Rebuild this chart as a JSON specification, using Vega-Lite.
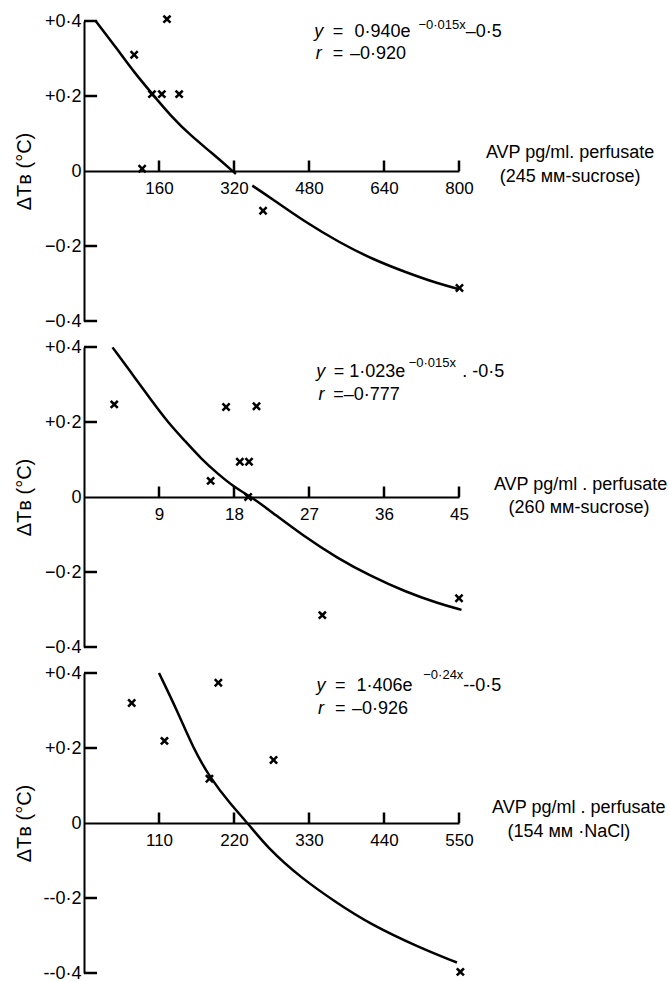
{
  "$schema": "https://vega.github.io/schema/vega-lite/v6.json",
  "padding": {"left": 14, "top": 12, "right": 0, "bottom": 0},
  "background": "white",
  "config": {
    "font": "Liberation Sans",
    "view": {"stroke": null},
    "axis": {
      "domainColor": "black", "domainWidth": 2, "ticks": false,
      "labelColor": "black", "labelFontSize": 17, "labelFont": "Liberation Sans",
      "grid": false, "titleColor": "black", "titleFontWeight": "normal", "titleFontSize": 20,
      "titleFont": "Liberation Sans", "labelFlush": false, "labelOverlap": false
    },
    "text": {"color": "black", "font": "Liberation Sans"}
  },
  "datasets": {
    "p1ticks": [
      {"a": "x", "x": 160, "y": 0}, {"a": "x", "x": 320, "y": 0}, {"a": "x", "x": 480, "y": 0}, {"a": "x", "x": 640, "y": 0}, {"a": "x", "x": 800, "y": 0},
      {"a": "y", "x": 0, "y": 0.4}, {"a": "y", "x": 0, "y": 0.2}, {"a": "y", "x": 0, "y": -0.2}, {"a": "y", "x": 0, "y": -0.4}
    ],
    "p2ticks": [
      {"a": "x", "x": 9, "y": 0}, {"a": "x", "x": 18, "y": 0}, {"a": "x", "x": 27, "y": 0}, {"a": "x", "x": 36, "y": 0}, {"a": "x", "x": 45, "y": 0},
      {"a": "y", "x": 0, "y": 0.4}, {"a": "y", "x": 0, "y": 0.2}, {"a": "y", "x": 0, "y": -0.2}, {"a": "y", "x": 0, "y": -0.4}
    ],
    "p3ticks": [
      {"a": "x", "x": 110, "y": 0}, {"a": "x", "x": 220, "y": 0}, {"a": "x", "x": 330, "y": 0}, {"a": "x", "x": 440, "y": 0}, {"a": "x", "x": 550, "y": 0},
      {"a": "y", "x": 0, "y": 0.4}, {"a": "y", "x": 0, "y": 0.2}, {"a": "y", "x": 0, "y": -0.2}, {"a": "y", "x": 0, "y": -0.4}
    ],
    "p1curve": [
      {"seg": "a", "x": 25, "y": 0.4}, {"seg": "a", "x": 71, "y": 0.325}, {"seg": "a", "x": 107, "y": 0.263},
      {"seg": "a", "x": 146, "y": 0.205}, {"seg": "a", "x": 185, "y": 0.147}, {"seg": "a", "x": 228, "y": 0.094},
      {"seg": "a", "x": 271, "y": 0.05}, {"seg": "a", "x": 316, "y": 0.001}, {"seg": "a", "x": 324, "y": -0.008},
      {"seg": "b", "x": 359, "y": -0.039}, {"seg": "b", "x": 402, "y": -0.075}, {"seg": "b", "x": 473, "y": -0.137},
      {"seg": "b", "x": 544, "y": -0.19}, {"seg": "b", "x": 615, "y": -0.235}, {"seg": "b", "x": 686, "y": -0.27},
      {"seg": "b", "x": 757, "y": -0.301}, {"seg": "b", "x": 800, "y": -0.315}
    ],
    "p1pts": [
      {"x": 107, "y": 0.31}, {"x": 177, "y": 0.405}, {"x": 145, "y": 0.205}, {"x": 166, "y": 0.205},
      {"x": 203, "y": 0.205}, {"x": 124, "y": 0.006}, {"x": 382, "y": -0.106}, {"x": 801, "y": -0.312}
    ],
    "p1txt": [
      {"k": "ital", "x": 501, "y": 0.358, "t": "y"},
      {"k": "main", "x": 542, "y": 0.358, "t": "="},
      {"k": "main", "x": 637, "y": 0.358, "t": "0·940e"},
      {"k": "sup", "x": 764, "y": 0.379, "t": "−0·015x"},
      {"k": "main", "x": 853, "y": 0.358, "t": "–0·5"},
      {"k": "ital", "x": 501, "y": 0.299, "t": "r"},
      {"k": "main", "x": 542, "y": 0.299, "t": "="},
      {"k": "main", "x": 627, "y": 0.299, "t": "–0·920"},
      {"k": "ctr", "x": 1037, "y": 0.034, "t": "AVP pg/ml. perfusate"},
      {"k": "ctr", "x": 1037, "y": -0.0285, "t": "(245 мм-sucrose)"}
    ],
    "p2curve": [
      {"seg": "a", "x": 3.42, "y": 0.399}, {"seg": "a", "x": 6.05, "y": 0.32}, {"seg": "a", "x": 8.07, "y": 0.258},
      {"seg": "a", "x": 10.07, "y": 0.199}, {"seg": "a", "x": 12.09, "y": 0.15}, {"seg": "a", "x": 14.1, "y": 0.101},
      {"seg": "a", "x": 16.1, "y": 0.061}, {"seg": "a", "x": 18.1, "y": 0.025}, {"seg": "a", "x": 20.2, "y": -0.002},
      {"seg": "a", "x": 22.4, "y": -0.038}, {"seg": "a", "x": 26.4, "y": -0.105}, {"seg": "a", "x": 30.4, "y": -0.163},
      {"seg": "a", "x": 34.5, "y": -0.212}, {"seg": "a", "x": 38.5, "y": -0.252}, {"seg": "a", "x": 42.5, "y": -0.284},
      {"seg": "a", "x": 45.3, "y": -0.301}
    ],
    "p2pts": [
      {"x": 3.63, "y": 0.247}, {"x": 17.05, "y": 0.24}, {"x": 20.7, "y": 0.242}, {"x": 18.7, "y": 0.094},
      {"x": 19.8, "y": 0.094}, {"x": 15.2, "y": 0.043}, {"x": 19.7, "y": 0.0}, {"x": 28.6, "y": -0.315},
      {"x": 45.0, "y": -0.27}
    ],
    "p2txt": [
      {"k": "ital", "x": 28.4, "y": 0.32, "t": "y"},
      {"k": "main", "x": 30.6, "y": 0.32, "t": "="},
      {"k": "main", "x": 35.2, "y": 0.32, "t": "1·023e"},
      {"k": "sup", "x": 41.8, "y": 0.346, "t": "−0·015x"},
      {"k": "main", "x": 47.9, "y": 0.32, "t": ". -0·5"},
      {"k": "ital", "x": 28.5, "y": 0.26, "t": "r"},
      {"k": "main", "x": 33.9, "y": 0.26, "t": "=–0·777"},
      {"k": "ctr", "x": 59.6, "y": 0.019, "t": "AVP pg/ml . perfusate"},
      {"k": "ctr", "x": 59.4, "y": -0.042, "t": "(260 мм-sucrose)"}
    ],
    "p3curve": [
      {"seg": "a", "x": 110, "y": 0.4}, {"seg": "a", "x": 136.6, "y": 0.3}, {"seg": "a", "x": 160, "y": 0.2},
      {"seg": "a", "x": 185, "y": 0.12}, {"seg": "a", "x": 215, "y": 0.05}, {"seg": "a", "x": 240, "y": 0.0},
      {"seg": "a", "x": 269, "y": -0.066}, {"seg": "a", "x": 318, "y": -0.146}, {"seg": "a", "x": 370, "y": -0.212},
      {"seg": "a", "x": 419, "y": -0.269}, {"seg": "a", "x": 493, "y": -0.333}, {"seg": "a", "x": 547, "y": -0.372}
    ],
    "p3pts": [
      {"x": 70, "y": 0.32}, {"x": 118, "y": 0.219}, {"x": 197, "y": 0.374}, {"x": 184, "y": 0.118},
      {"x": 278, "y": 0.168}, {"x": 552, "y": -0.397}
    ],
    "p3txt": [
      {"k": "ital", "x": 347.7, "y": 0.353, "t": "y"},
      {"k": "main", "x": 375.8, "y": 0.353, "t": "="},
      {"k": "main", "x": 440.7, "y": 0.353, "t": "1·406e"},
      {"k": "sup", "x": 527, "y": 0.385, "t": "−0·24x"},
      {"k": "main", "x": 584, "y": 0.353, "t": "--0·5"},
      {"k": "ital", "x": 347.7, "y": 0.291, "t": "r"},
      {"k": "main", "x": 375.8, "y": 0.291, "t": "="},
      {"k": "main", "x": 434, "y": 0.291, "t": "–0·926"},
      {"k": "ctr", "x": 725.7, "y": 0.0267, "t": "AVP pg/ml . perfusate"},
      {"k": "ctr", "x": 711, "y": -0.038, "t": "(154 мм ·NaCl)"}
    ]
  },
  "bounds": "flush",
  "spacing": 26,
  "vconcat": [
    {
      "width": 375, "height": 300,
      "encoding": {
        "x": {"field": "x", "type": "quantitative", "scale": {"domain": [0, 800], "nice": false, "zero": false},
          "axis": {"orient": "top", "offset": -150, "values": [160, 320, 480, 640, 800], "labelPadding": -9, "labelBaseline": "top", "title": null}},
        "y": {"field": "y", "type": "quantitative", "scale": {"domain": [-0.4, 0.4], "nice": false, "zero": false},
          "axis": {"orient": "right", "offset": -375, "values": [-0.4, -0.2, 0, 0.2, 0.4], "labelPadding": -3, "labelAlign": "right", "labelFontSize": 18,
            "labelExpr": "datum.value > 0.01 ? '+' + replace(format(datum.value, '.1f'), '.', '·') : datum.value < -0.01 ? '−' + replace(format(-datum.value, '.1f'), '.', '·') : '0'",
            "title": "ΔTʙ (°C)", "titleX": -60, "titleY": 150, "titleAngle": -90, "titleAlign": "center", "titleBaseline": "middle"}}
      },
      "layer": [
        {"data": {"name": "p1ticks"}, "transform": [{"filter": "datum.a == 'x'"}], "mark": {"type": "rule", "strokeWidth": 2.5, "color": "black"}, "encoding": {"y2": {"datum": 0.028}}},
        {"data": {"name": "p1ticks"}, "transform": [{"filter": "datum.a == 'y'"}], "mark": {"type": "rule", "strokeWidth": 2.5, "color": "black"}, "encoding": {"x2": {"datum": 28}}},
        {"data": {"name": "p1curve"}, "mark": {"type": "line", "color": "black", "strokeWidth": 2.5, "interpolate": "basis"}, "encoding": {"detail": {"field": "seg"}}},
        {"data": {"name": "p1pts"}, "mark": {"type": "point", "shape": "M-1,-0.6L-0.6,-1L0,-0.4L0.6,-1L1,-0.6L0.4,0L1,0.6L0.6,1L0,0.4L-0.6,1L-1,0.6L-0.4,0Z", "filled": true, "color": "black", "opacity": 1, "size": 80, "strokeWidth": 0}},
        {"data": {"name": "p1txt"}, "transform": [{"filter": "datum.k == 'main'"}], "mark": {"type": "text", "align": "center", "baseline": "alphabetic", "fontSize": 18}, "encoding": {"text": {"field": "t"}}},
        {"data": {"name": "p1txt"}, "transform": [{"filter": "datum.k == 'ital'"}], "mark": {"type": "text", "align": "center", "baseline": "alphabetic", "fontSize": 18, "fontStyle": "italic"}, "encoding": {"text": {"field": "t"}}},
        {"data": {"name": "p1txt"}, "transform": [{"filter": "datum.k == 'sup'"}], "mark": {"type": "text", "align": "center", "baseline": "alphabetic", "fontSize": 13}, "encoding": {"text": {"field": "t"}}},
        {"data": {"name": "p1txt"}, "transform": [{"filter": "datum.k == 'ctr'"}], "mark": {"type": "text", "align": "center", "baseline": "alphabetic", "fontSize": 18}, "encoding": {"text": {"field": "t"}}}
      ]
    },
    {
      "width": 375, "height": 300,
      "encoding": {
        "x": {"field": "x", "type": "quantitative", "scale": {"domain": [0, 45], "nice": false, "zero": false},
          "axis": {"orient": "top", "offset": -150, "values": [9, 18, 27, 36, 45], "labelPadding": -9, "labelBaseline": "top", "title": null}},
        "y": {"field": "y", "type": "quantitative", "scale": {"domain": [-0.4, 0.4], "nice": false, "zero": false},
          "axis": {"orient": "right", "offset": -375, "values": [-0.4, -0.2, 0, 0.2, 0.4], "labelPadding": -3, "labelAlign": "right", "labelFontSize": 18,
            "labelExpr": "datum.value > 0.01 ? '+' + replace(format(datum.value, '.1f'), '.', '·') : datum.value < -0.01 ? '−' + replace(format(-datum.value, '.1f'), '.', '·') : '0'",
            "title": "ΔTʙ (°C)", "titleX": -60, "titleY": 150, "titleAngle": -90, "titleAlign": "center", "titleBaseline": "middle"}}
      },
      "layer": [
        {"data": {"name": "p2ticks"}, "transform": [{"filter": "datum.a == 'x'"}], "mark": {"type": "rule", "strokeWidth": 2.5, "color": "black"}, "encoding": {"y2": {"datum": 0.028}}},
        {"data": {"name": "p2ticks"}, "transform": [{"filter": "datum.a == 'y'"}], "mark": {"type": "rule", "strokeWidth": 2.5, "color": "black"}, "encoding": {"x2": {"datum": 1.56}}},
        {"data": {"name": "p2curve"}, "mark": {"type": "line", "color": "black", "strokeWidth": 2.5, "interpolate": "basis"}, "encoding": {"detail": {"field": "seg"}}},
        {"data": {"name": "p2pts"}, "mark": {"type": "point", "shape": "M-1,-0.6L-0.6,-1L0,-0.4L0.6,-1L1,-0.6L0.4,0L1,0.6L0.6,1L0,0.4L-0.6,1L-1,0.6L-0.4,0Z", "filled": true, "color": "black", "opacity": 1, "size": 80, "strokeWidth": 0}},
        {"data": {"name": "p2txt"}, "transform": [{"filter": "datum.k == 'main'"}], "mark": {"type": "text", "align": "center", "baseline": "alphabetic", "fontSize": 18}, "encoding": {"text": {"field": "t"}}},
        {"data": {"name": "p2txt"}, "transform": [{"filter": "datum.k == 'ital'"}], "mark": {"type": "text", "align": "center", "baseline": "alphabetic", "fontSize": 18, "fontStyle": "italic"}, "encoding": {"text": {"field": "t"}}},
        {"data": {"name": "p2txt"}, "transform": [{"filter": "datum.k == 'sup'"}], "mark": {"type": "text", "align": "center", "baseline": "alphabetic", "fontSize": 13}, "encoding": {"text": {"field": "t"}}},
        {"data": {"name": "p2txt"}, "transform": [{"filter": "datum.k == 'ctr'"}], "mark": {"type": "text", "align": "center", "baseline": "alphabetic", "fontSize": 18}, "encoding": {"text": {"field": "t"}}}
      ]
    },
    {
      "width": 375, "height": 300,
      "encoding": {
        "x": {"field": "x", "type": "quantitative", "scale": {"domain": [0, 550], "nice": false, "zero": false},
          "axis": {"orient": "top", "offset": -150, "values": [110, 220, 330, 440, 550], "labelPadding": -9, "labelBaseline": "top", "title": null}},
        "y": {"field": "y", "type": "quantitative", "scale": {"domain": [-0.4, 0.4], "nice": false, "zero": false},
          "axis": {"orient": "right", "offset": -375, "values": [-0.4, -0.2, 0, 0.2, 0.4], "labelPadding": -3, "labelAlign": "right", "labelFontSize": 18,
            "labelExpr": "datum.value > 0.01 ? '+' + replace(format(datum.value, '.1f'), '.', '·') : datum.value < -0.01 ? '--' + replace(format(-datum.value, '.1f'), '.', '·') : '0'",
            "title": "ΔTʙ (°C)", "titleX": -60, "titleY": 150, "titleAngle": -90, "titleAlign": "center", "titleBaseline": "middle"}}
      },
      "layer": [
        {"data": {"name": "p3ticks"}, "transform": [{"filter": "datum.a == 'x'"}], "mark": {"type": "rule", "strokeWidth": 2.5, "color": "black"}, "encoding": {"y2": {"datum": 0.028}}},
        {"data": {"name": "p3ticks"}, "transform": [{"filter": "datum.a == 'y'"}], "mark": {"type": "rule", "strokeWidth": 2.5, "color": "black"}, "encoding": {"x2": {"datum": 19.1}}},
        {"data": {"name": "p3curve"}, "mark": {"type": "line", "color": "black", "strokeWidth": 2.5, "interpolate": "basis"}, "encoding": {"detail": {"field": "seg"}}},
        {"data": {"name": "p3pts"}, "mark": {"type": "point", "shape": "M-1,-0.6L-0.6,-1L0,-0.4L0.6,-1L1,-0.6L0.4,0L1,0.6L0.6,1L0,0.4L-0.6,1L-1,0.6L-0.4,0Z", "filled": true, "color": "black", "opacity": 1, "size": 80, "strokeWidth": 0}},
        {"data": {"name": "p3txt"}, "transform": [{"filter": "datum.k == 'main'"}], "mark": {"type": "text", "align": "center", "baseline": "alphabetic", "fontSize": 18}, "encoding": {"text": {"field": "t"}}},
        {"data": {"name": "p3txt"}, "transform": [{"filter": "datum.k == 'ital'"}], "mark": {"type": "text", "align": "center", "baseline": "alphabetic", "fontSize": 18, "fontStyle": "italic"}, "encoding": {"text": {"field": "t"}}},
        {"data": {"name": "p3txt"}, "transform": [{"filter": "datum.k == 'sup'"}], "mark": {"type": "text", "align": "center", "baseline": "alphabetic", "fontSize": 13}, "encoding": {"text": {"field": "t"}}},
        {"data": {"name": "p3txt"}, "transform": [{"filter": "datum.k == 'ctr'"}], "mark": {"type": "text", "align": "center", "baseline": "alphabetic", "fontSize": 18}, "encoding": {"text": {"field": "t"}}}
      ]
    }
  ]
}
